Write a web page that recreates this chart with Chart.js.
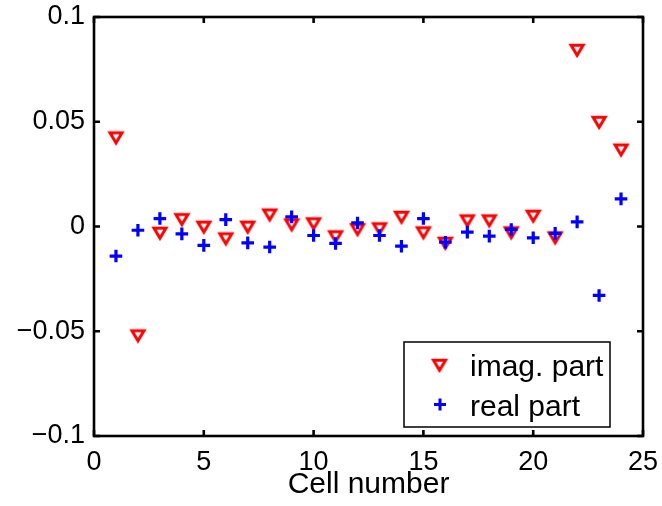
<!DOCTYPE html>
<html>
<head>
<meta charset="utf-8">
<script src="https://cdn.jsdelivr.net/npm/chart.js@4/dist/chart.umd.min.js"></script>
<style>
  html, body { margin: 0; padding: 0; background: #fff; }
  #wrap { width: 662px; height: 506px; }
</style>
</head>
<body>
<div id="wrap"><canvas id="chart" width="662" height="506"></canvas></div>
<script>
// ---- data ----
const cells = [1, 2, 3, 4, 5, 6, 7, 8, 9, 10, 11, 12, 13, 14, 15, 16, 17, 18, 19, 20, 21, 22, 23, 24];
const imagPart = [0.042, -0.0525, -0.0035, 0.003, -0.0006, -0.0062, -0.0006, 0.0052, 0.0005, 0.001, -0.0052, -0.0018,
                  -0.0014, 0.0041, -0.0033, -0.0083, 0.0024, 0.0024, -0.0033, 0.0046, -0.0057, 0.0838, 0.0494, 0.0362];
const realPart = [-0.0141, -0.0018, 0.0038, -0.0035, -0.009, 0.0033, -0.0078, -0.0098, 0.0046, -0.0043, -0.0081, 0.0017,
                  -0.0043, -0.0094, 0.0038, -0.0075, -0.0027, -0.0046, -0.0014, -0.0054, -0.0033, 0.0022, -0.0329, 0.0132];

const xTickValues = [0, 5, 10, 15, 20, 25];
const xTickLabels = ['0', '5', '10', '15', '20', '25'];
const yTickValues = [-0.1, -0.05, 0, 0.05, 0.1];
const yTickLabels = ['\u22120.1', '\u22120.05', '0', '0.05', '0.1'];

const seriesLabels = ['imag. part', 'real part'];
const FONT = '"Liberation Sans", Arial, Helvetica, sans-serif';

// open downward triangle marker (MATLAB 'v')
function makeTriangle() {
    const c = document.createElement('canvas');
    c.width = 24; c.height = 24;
    const g = c.getContext('2d');
    g.strokeStyle = '#ff0000';
    g.lineWidth = 3;
    g.lineJoin = 'miter';
    g.beginPath();
    g.moveTo(6, 6.3);
    g.lineTo(18, 6.3);
    g.lineTo(12, 16.3);
    g.closePath();
    g.stroke();
    return c;
}
const triMarker = makeTriangle();

// frame, inward ticks and legend box, MATLAB style
const matlabAxes = {
    id: 'matlabAxes',
    afterDatasetsDraw(chart) {
        const { ctx, chartArea: a, scales: { x, y } } = chart;
        const tl = 6;
        ctx.save();
        ctx.strokeStyle = '#000';
        ctx.lineWidth = 2.6;
        ctx.beginPath();
        xTickValues.forEach(v => {
            const px = x.getPixelForValue(v);
            ctx.moveTo(px, a.bottom); ctx.lineTo(px, a.bottom - tl);
            ctx.moveTo(px, a.top); ctx.lineTo(px, a.top + tl);
        });
        yTickValues.forEach(v => {
            const py = y.getPixelForValue(v);
            ctx.moveTo(a.left, py); ctx.lineTo(a.left + tl, py);
            ctx.moveTo(a.right, py); ctx.lineTo(a.right - tl, py);
        });
        ctx.stroke();
        ctx.strokeRect(a.left, a.top, a.right - a.left, a.bottom - a.top);

        // legend
        const lx = 404, ly = 342, lw = 206, lh = 85;
        ctx.fillStyle = '#fff';
        ctx.fillRect(lx, ly, lw, lh);
        ctx.lineWidth = 1.5;
        ctx.strokeRect(lx, ly, lw, lh);

        ctx.drawImage(triMarker, 439.5 - 12, 366 - 12);
        ctx.strokeStyle = '#0000ff';
        ctx.lineWidth = 3;
        ctx.beginPath();
        ctx.moveTo(434, 404.5); ctx.lineTo(446, 404.5);
        ctx.moveTo(440, 398.5); ctx.lineTo(440, 410.5);
        ctx.stroke();

        ctx.fillStyle = '#000';
        ctx.font = '30px ' + FONT;
        ctx.textAlign = 'left';
        ctx.textBaseline = 'alphabetic';
        ctx.fillText(seriesLabels[0], 470, 376);
        ctx.fillText(seriesLabels[1], 470, 416);
        ctx.restore();
    }
};

new Chart(document.getElementById('chart'), {
    type: 'scatter',
    data: {
        datasets: [
            {
                label: seriesLabels[0],
                data: cells.map((c, i) => ({ x: c, y: imagPart[i] })),
                pointStyle: triMarker,
                order: 2
            },
            {
                label: seriesLabels[1],
                data: cells.map((c, i) => ({ x: c, y: realPart[i] })),
                pointStyle: 'cross',
                pointRadius: 6.3,
                pointBorderWidth: 3.2,
                borderColor: '#0000ff',
                backgroundColor: '#0000ff',
                order: 1
            }
        ]
    },
    options: {
        responsive: false,
        devicePixelRatio: 1,
        animation: false,
        events: [],
        layout: { autoPadding: false, padding: { left: 0, top: 17, right: 19, bottom: 0 } },
        plugins: { legend: { display: false }, tooltip: { enabled: false } },
        scales: {
            x: {
                type: 'linear',
                min: 0, max: 25,
                grid: { display: false, drawTicks: false },
                border: { display: false },
                afterBuildTicks: s => { s.ticks = xTickValues.map(v => ({ value: v })); },
                afterFit: s => { s.height = 70; s.paddingLeft = 0; s.paddingRight = 0; },
                ticks: {
                    padding: 10,
                    color: '#000',
                    font: { family: FONT, size: 27 },
                    maxRotation: 0,
                    callback: (v, i) => xTickLabels[i]
                },
                title: {
                    display: true,
                    text: 'Cell number',
                    color: '#000',
                    font: { family: FONT, size: 30 },
                    padding: { top: 0, bottom: 3 }
                }
            },
            y: {
                type: 'linear',
                min: -0.1, max: 0.1,
                grid: { display: false, drawTicks: false },
                border: { display: false },
                afterBuildTicks: s => { s.ticks = yTickValues.map(v => ({ value: v })); },
                afterFit: s => { s.width = 94; s.paddingTop = 0; s.paddingBottom = 0; },
                ticks: {
                    padding: 9,
                    color: '#000',
                    font: { family: FONT, size: 27 },
                    callback: (v, i) => yTickLabels[i]
                }
            }
        }
    },
    plugins: [matlabAxes]
});
</script>
</body>
</html>
